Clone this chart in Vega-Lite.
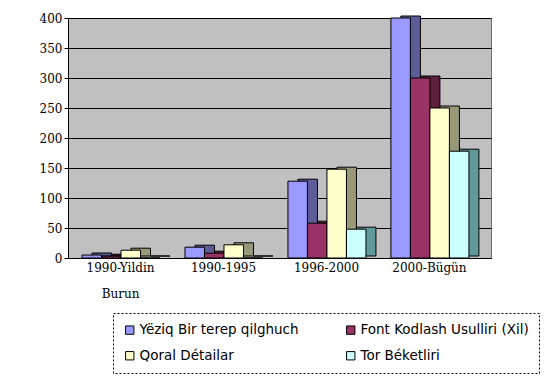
{
  "$schema": "https://vega.github.io/schema/vega-lite/v6.json",
  "autosize": "none",
  "width": 423,
  "height": 240,
  "padding": {"left": 68, "top": 18, "right": 62, "bottom": 121},
  "background": "white",
  "config": {
    "view": {"fill": "#C0C0C0", "stroke": "#000000", "strokeDash": [1, 1], "strokeWidth": 1},
    "axis": {"labelFont": "DejaVu Serif", "labelFontSize": 12, "labelColor": "#000000"},
    "legend": {"strokeDash": [2, 2]}
  },
  "data": {
    "values": [
      {"period": "1990-Yildin Burun", "series": "Yëziq Bir terep qilghuch", "value": 5},
      {"period": "1990-Yildin Burun", "series": "Font Kodlash Usulliri (Xil)", "value": 3},
      {"period": "1990-Yildin Burun", "series": "Qoral Détailar", "value": 13},
      {"period": "1990-Yildin Burun", "series": "Tor Béketliri", "value": 0},
      {"period": "1990-1995", "series": "Yëziq Bir terep qilghuch", "value": 18},
      {"period": "1990-1995", "series": "Font Kodlash Usulliri (Xil)", "value": 8},
      {"period": "1990-1995", "series": "Qoral Détailar", "value": 22},
      {"period": "1990-1995", "series": "Tor Béketliri", "value": 0},
      {"period": "1996-2000", "series": "Yëziq Bir terep qilghuch", "value": 128},
      {"period": "1996-2000", "series": "Font Kodlash Usulliri (Xil)", "value": 58},
      {"period": "1996-2000", "series": "Qoral Détailar", "value": 148},
      {"period": "1996-2000", "series": "Tor Béketliri", "value": 48},
      {"period": "2000-Bügün", "series": "Yëziq Bir terep qilghuch", "value": 400},
      {"period": "2000-Bügün", "series": "Font Kodlash Usulliri (Xil)", "value": 300},
      {"period": "2000-Bügün", "series": "Qoral Détailar", "value": 250},
      {"period": "2000-Bügün", "series": "Tor Béketliri", "value": 178}
    ]
  },
  "encoding": {
    "x": {
      "field": "period", "type": "nominal", "sort": null,
      "scale": {"paddingInner": 0.252, "paddingOuter": 0.18, "align": 0.378},
      "axis": {
        "title": null, "labelAngle": 0, "domain": true, "domainColor": "#000000",
        "ticks": false, "labelPadding": 4, "labelLineHeight": 26,
        "labelExpr": "datum.label == '1990-Yildin Burun' ? ['1990-Yildin', 'Burun'] : datum.label"
      }
    },
    "y": {
      "field": "value", "type": "quantitative",
      "scale": {"domain": [0, 400], "nice": false},
      "axis": {
        "title": null, "values": [0, 50, 100, 150, 200, 250, 300, 350, 400],
        "grid": true, "gridColor": "#000000", "gridWidth": 1, "gridOpacity": 1,
        "domainColor": "#000000", "tickColor": "#000000", "tickSize": 4, "labelPadding": 2
      }
    }
  },
  "layer": [
    {
      "mark": {"type": "bar", "yOffset": -2, "stroke": "#000000", "strokeWidth": 1},
      "encoding": {
        "xOffset": {"field": "series", "type": "nominal", "sort": null, "scale": {"paddingInner": 0, "paddingOuter": 0, "range": [10, 88]}},
        "color": {
          "field": "series", "type": "nominal", "sort": null,
          "scale": {"range": ["#5C5C99", "#5C1F3D", "#99997A", "#5F9999"]},
          "legend": null
        }
      }
    },
    {
      "mark": {"type": "bar", "stroke": "#000000", "strokeWidth": 1},
      "encoding": {
        "xOffset": {"field": "series", "type": "nominal", "sort": null, "scale": {"paddingInner": 0, "paddingOuter": 0, "range": [0, 78]}},
        "color": {
          "field": "series", "type": "nominal", "sort": null,
          "scale": {"range": ["#9999FF", "#993366", "#FFFFCC", "#CCFFFF"]},
          "legend": {
            "title": null, "orient": "none", "legendX": 45, "legendY": 295,
            "columns": 2, "direction": "horizontal",
            "symbolType": "square", "symbolSize": 70, "symbolStrokeColor": "#000000", "symbolStrokeWidth": 1,
            "labelFont": "DejaVu Sans", "labelFontSize": 13.5, "labelColor": "#000000",
            "labelLimit": 260, "labelOffset": 3,
            "columnPadding": 45, "rowPadding": 11,
            "padding": 10, "fillColor": "#FFFFFF", "strokeColor": "#000000",
            "offset": 0
          }
        }
      }
    }
  ],
  "resolve": {"scale": {"color": "independent", "xOffset": "independent"}}
}
